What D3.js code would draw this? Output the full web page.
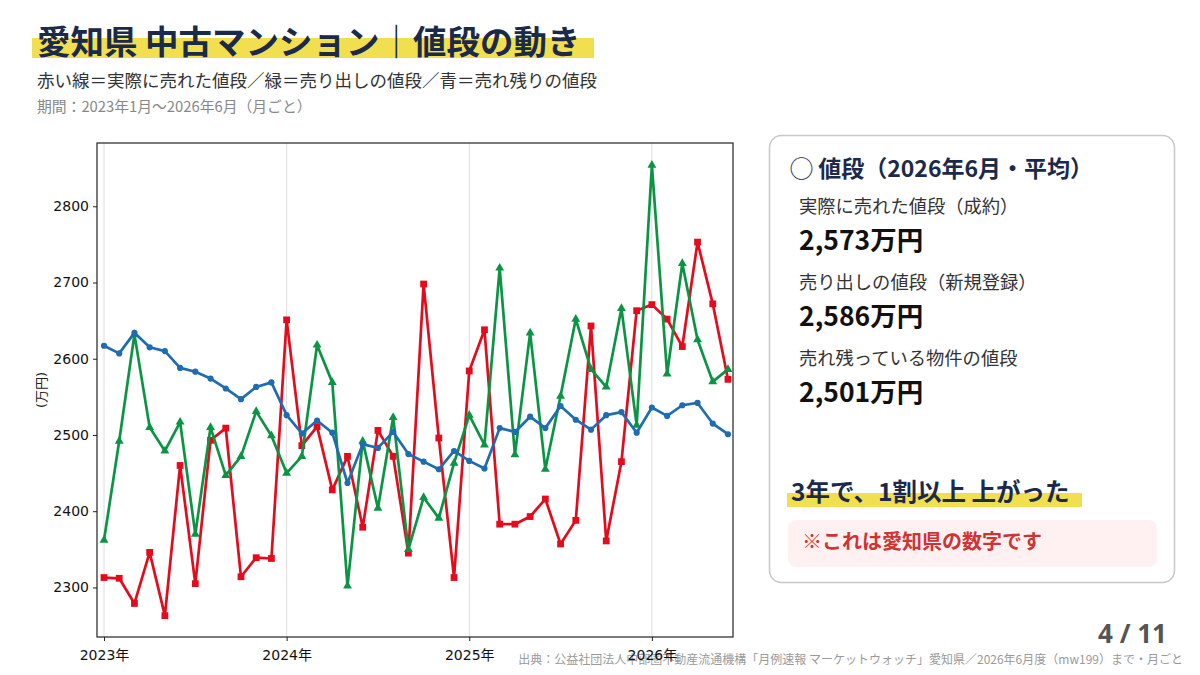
<!DOCTYPE html>
<html>
<head>
<meta charset="utf-8">
<script src="https://cdn.jsdelivr.net/npm/d3@7"></script>
<style>
    body { margin: 0; background: #fff; }
    svg { display: block; font-family: "Noto Sans CJK JP", sans-serif; }
</style>
</head>
<body>
<svg id="drawing_region"></svg>
<script>
// 2023年1月〜2026年6月（月ごと）
const months = d3.range(42);
const year_ticks = [0, 12, 24, 36];
const year_labels = ["2023年", "2024年", "2025年", "2026年"];
const y_ticks = [2300, 2400, 2500, 2600, 2700, 2800];

// 成約（赤）
const seiyaku = [
    2313, 2312, 2279, 2346, 2263, 2460, 2305, 2493, 2509, 2314, 2339, 2338,
    2651, 2486, 2511, 2428, 2472, 2379, 2506, 2472, 2345, 2698, 2496, 2313,
    2584, 2638, 2383, 2383, 2393, 2416, 2357, 2388, 2643, 2361, 2465, 2663,
    2671, 2652, 2616, 2753, 2672, 2573
];
// 新規登録（緑）
const shinki = [
    2362, 2492, 2632, 2510, 2479, 2517, 2370, 2510, 2447, 2472, 2531, 2499,
    2450, 2472, 2618, 2569, 2302, 2492, 2404, 2523, 2350, 2418, 2391, 2463,
    2526, 2487, 2719, 2474, 2634, 2455, 2551, 2652, 2586, 2563, 2666, 2513,
    2854, 2580, 2725, 2625, 2570, 2586
];
// 在庫（青）
const zaiko = [
    2617, 2607, 2634, 2615, 2610, 2588, 2583, 2574, 2561, 2547, 2563, 2569,
    2526, 2502, 2519, 2503, 2437, 2488, 2483, 2504, 2475, 2465, 2455, 2479,
    2466, 2456, 2509, 2504, 2524, 2509, 2538, 2520, 2507, 2526, 2530, 2503,
    2536, 2525, 2539, 2542, 2515, 2501
];

const svg = d3.select('#drawing_region')
    .attr('width', 1200)
    .attr('height', 675);

const navy = '#1b2a4a';

// ---- header ----
svg.append('rect')
    .attr('x', 32).attr('y', 38).attr('width', 562).attr('height', 20)
    .attr('fill', '#f2df4f');
svg.append('text')
    .attr('x', 37).attr('y', 54)
    .attr('fill', navy)
    .attr('font-size', '33.5px')
    .attr('font-weight', 'bold')
    .text('愛知県 中古マンション｜値段の動き');
svg.append('text')
    .attr('x', 37).attr('y', 87)
    .attr('fill', '#333')
    .attr('font-size', '17.5px')
    .text('赤い線＝実際に売れた値段／緑＝売り出しの値段／青＝売れ残りの値段');
svg.append('text')
    .attr('x', 37).attr('y', 112)
    .attr('fill', '#888')
    .attr('font-size', '14.8px')
    .text('期間：2023年1月～2026年6月（月ごと）');

// ---- chart ----
const plot = { left: 97, right: 733, top: 143, bottom: 637 };

const xscale = d3.scaleLinear()
    .domain([-0.46, 41.33])
    .range([plot.left, plot.right]);
const yscale = d3.scaleLinear()
    .domain([2235, 2883])
    .range([plot.bottom, plot.top]);

const chart = svg.append('g');

chart.selectAll('.grid').data(year_ticks).join('line')
    .attr('class', 'grid')
    .attr('x1', d => xscale(d)).attr('x2', d => xscale(d))
    .attr('y1', plot.top).attr('y2', plot.bottom)
    .attr('stroke', '#dddddd')
    .attr('stroke-width', 1);

const xaxis = d3.axisBottom(xscale)
    .tickValues(year_ticks)
    .tickFormat((d, i) => year_labels[i])
    .tickSize(4)
    .tickSizeOuter(0);
const yaxis = d3.axisLeft(yscale)
    .tickValues(y_ticks)
    .tickFormat(d3.format('d'))
    .tickSize(4)
    .tickSizeOuter(0);

const font_axis = '"DejaVu Sans", "Noto Sans CJK JP", sans-serif';

const line = d3.line()
    .x((d, i) => xscale(i))
    .y(d => yscale(d));

const series = [
    { values: seiyaku, color: '#e30b1c', marker: d3.symbolSquare, size: 46 },
    { values: shinki, color: '#0a9444', marker: d3.symbolTriangle, size: 34 },
    { values: zaiko, color: '#1f6cb0', marker: d3.symbolCircle, size: 30 }
];

series.forEach(s => {
    const g = chart.append('g');
    g.append('path')
        .datum(s.values)
        .attr('fill', 'none')
        .attr('stroke', s.color)
        .attr('stroke-width', 2.7)
        .attr('stroke-linejoin', 'round')
        .attr('d', line);
    g.selectAll('path.m').data(s.values).join('path')
        .attr('class', 'm')
        .attr('transform', (d, i) => `translate(${xscale(i)}, ${yscale(d)})`)
        .attr('fill', s.color)
        .attr('d', d3.symbol().type(s.marker).size(s.size));
});

// frame
chart.append('rect')
    .attr('x', plot.left).attr('y', plot.top)
    .attr('width', plot.right - plot.left).attr('height', plot.bottom - plot.top)
    .attr('fill', 'none')
    .attr('stroke', '#222')
    .attr('stroke-width', 1.2);

const xaxis_group = chart.append('g')
    .attr('transform', `translate(0, ${plot.bottom})`)
    .call(xaxis);
const yaxis_group = chart.append('g')
    .attr('transform', `translate(${plot.left}, 0)`)
    .call(yaxis);

[xaxis_group, yaxis_group].forEach(g => {
    g.select('.domain').remove();
    g.selectAll('line').attr('stroke', '#222');
    g.selectAll('text')
        .style('fill', '#111')
        .style('font-size', '14px')
        .style('font-family', font_axis);
});
xaxis_group.selectAll('text').attr('dy', '1.15em');
yaxis_group.selectAll('text').attr('x', -8);

svg.append('text')
    .attr('transform', `translate(46, 390) rotate(-90)`)
    .attr('text-anchor', 'middle')
    .attr('fill', '#222')
    .attr('font-size', '13px')
    .style('font-family', font_axis)
    .text('(万円)');

// ---- right card ----
const card = svg.append('g');
card.append('rect')
    .attr('x', 769.5).attr('y', 135.5).attr('width', 405).attr('height', 447)
    .attr('rx', 12)
    .attr('fill', '#fff')
    .attr('stroke', '#c8c8c8')
    .attr('stroke-width', 1.5);

card.append('text')
    .attr('x', 790).attr('y', 177)
    .attr('fill', navy)
    .attr('font-size', '23px')
    .attr('font-weight', 'bold')
    .text('◯ 値段（2026年6月・平均）');

const items = [
    ['実際に売れた値段（成約）', '2,573万円'],
    ['売り出しの値段（新規登録）', '2,586万円'],
    ['売れ残っている物件の値段', '2,501万円']
];
items.forEach((d, i) => {
    card.append('text')
        .attr('x', 799).attr('y', 213 + i * 76)
        .attr('fill', '#333')
        .attr('font-size', '18.3px')
        .text(d[0]);
    card.append('text')
        .attr('x', 799).attr('y', 250 + i * 76)
        .attr('fill', '#111')
        .attr('font-size', '26.5px')
        .attr('font-weight', 'bold')
        .text(d[1]);
});

card.append('rect')
    .attr('x', 787).attr('y', 493).attr('width', 295).attr('height', 14)
    .attr('fill', '#f2df4f');
card.append('text')
    .attr('x', 791).attr('y', 501)
    .attr('fill', navy)
    .attr('font-size', '24.5px')
    .attr('font-weight', 'bold')
    .text('3年で、1割以上 上がった');

card.append('rect')
    .attr('x', 788).attr('y', 520).attr('width', 369).attr('height', 47)
    .attr('rx', 8)
    .attr('fill', '#fff1f1');
card.append('text')
    .attr('x', 802).attr('y', 549)
    .attr('fill', '#cf3434')
    .attr('font-size', '20px')
    .attr('font-weight', 'bold')
    .text('※これは愛知県の数字です');

// ---- footer ----
svg.append('text')
    .attr('x', 1167).attr('y', 643)
    .attr('text-anchor', 'end')
    .attr('fill', '#555')
    .attr('font-size', '26px')
    .attr('font-weight', 'bold')
    .attr('font-family', '"Noto Sans", sans-serif')
    .text('4 / 11');
svg.append('text')
    .attr('x', 1183).attr('y', 664)
    .attr('text-anchor', 'end')
    .attr('fill', '#9a9a9a')
    .attr('font-size', '12px')
    .text('出典：公益社団法人中部圏不動産流通機構「月例速報 マーケットウォッチ」愛知県／2026年6月度（mw199）まで・月ごと');

// x labels drawn above the footer, like the reference
chart.raise();
</script>
</body>
</html>
